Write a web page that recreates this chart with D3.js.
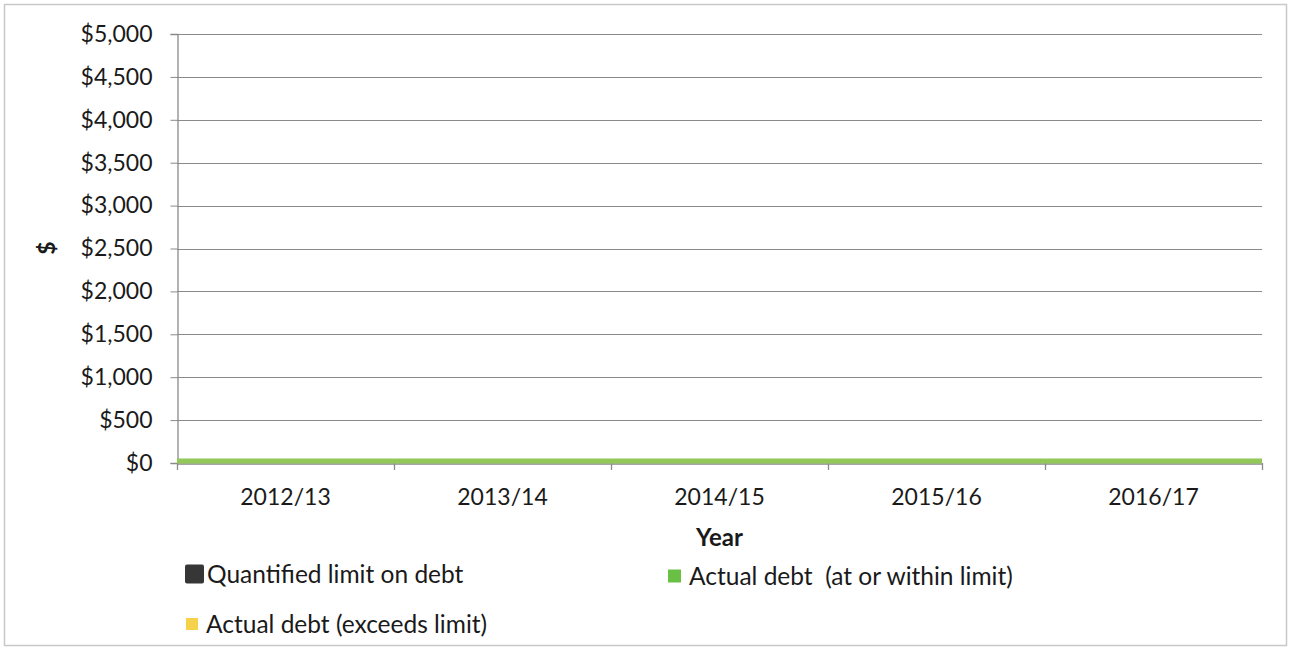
<!DOCTYPE html>
<html>
<head>
<meta charset="utf-8">
<script src="https://cdn.jsdelivr.net/npm/d3@7"></script>
<style>
  html, body { margin: 0; padding: 0; background: #fff; }
  svg { display: block; }
  text { font-family: Lato, "Open Sans", "Noto Sans", sans-serif; fill: #1a1a1a; white-space: pre; }
</style>
</head>
<body>
<svg id="chart" width="1290" height="650"></svg>
<script>
// Debt by financial year (dollars)
const years = ["2012/13", "2013/14", "2014/15", "2015/16", "2016/17"];
const quantifiedLimit = [0, 0, 0, 0, 0];
const actualWithin = [0, 0, 0, 0, 0];
const actualExceeds = [0, 0, 0, 0, 0];
const yTicks = [0, 500, 1000, 1500, 2000, 2500, 3000, 3500, 4000, 4500, 5000];

const seriesInfo = [
  { key: "limit", name: "Quantified limit on debt", values: quantifiedLimit, fill: "#333333", legend: "#363636" },
  { key: "within", name: "Actual debt  (at or within limit)", values: actualWithin, fill: "#92c857", legend: "#6abf45" },
  { key: "exceeds", name: "Actual debt (exceeds limit)", values: actualExceeds, fill: "#f5d24a", legend: "#f5d24a" }
];

const svg = d3.select("#chart");
const W = 1290, H = 650;
const plot = { left: 177, right: 1262, top: 34, bottom: 463 };
const labelFont = "23px";
const legendFont = "24.5px";

// outer frame
svg.append("rect")
  .attr("x", 4.5).attr("y", 4.5).attr("width", W - 8).attr("height", H - 9)
  .attr("fill", "#fff").attr("stroke", "#c8c8c8").attr("stroke-width", 1.5);

const x = d3.scaleBand().domain(years).range([plot.left, plot.right]).padding(0);
const xEdge = d3.scalePoint().domain(years).range([plot.left, plot.right]);
const y = d3.scaleLinear().domain([0, 5000]).range([plot.bottom, plot.top]);

// horizontal gridlines
svg.append("g")
  .selectAll("line")
  .data(yTicks.filter(d => d > 0))
  .join("line")
  .attr("x1", plot.left).attr("x2", plot.right)
  .attr("y1", d => Math.round(y(d)) + 0.5).attr("y2", d => Math.round(y(d)) + 0.5)
  .attr("stroke", "#8a8a8a").attr("stroke-width", 1);

// stacked areas
const rows = years.map((yr, i) => {
  const r = { year: yr };
  seriesInfo.forEach(s => r[s.key] = s.values[i]);
  return r;
});
const stacked = d3.stack().keys(seriesInfo.map(s => s.key))(rows);
const area = d3.area()
  .x(d => xEdge(d.data.year))
  .y0(d => y(d[0]))
  .y1(d => y(d[1]));
const topLine = d3.line()
  .x(d => xEdge(d.data.year))
  .y(d => y(d[1]));

svg.append("g").selectAll("path.area")
  .data(stacked)
  .join("path")
  .attr("class", "area")
  .attr("d", area)
  .attr("fill", (d, i) => seriesInfo[i].fill);

// y axis
const yAxis = svg.append("g")
  .attr("transform", `translate(${plot.left + 0.5},0)`)
  .call(d3.axisLeft(y).tickValues(yTicks).tickSize(7).tickPadding(18)
    .tickFormat(d => "$" + d3.format(",")(d)));
yAxis.select(".domain").attr("stroke", "#8a8a8a").attr("stroke-width", 1.3);
yAxis.selectAll(".tick line").attr("stroke", "#8a8a8a");
yAxis.selectAll(".tick text")
  .style("font-size", labelFont)
  .style("font-family", "Lato, 'Open Sans', sans-serif")
  .attr("fill", "#1a1a1a");

// x axis
const xAxis = svg.append("g")
  .attr("transform", `translate(0,${plot.bottom + 0.5})`)
  .call(d3.axisBottom(x).tickSize(0).tickPadding(25));
xAxis.select(".domain").attr("stroke", "#8a8a8a").attr("stroke-width", 1.3);
xAxis.selectAll(".tick text")
  .style("font-size", labelFont)
  .style("font-family", "Lato, 'Open Sans', sans-serif")
  .attr("fill", "#1a1a1a");
// category boundary tick marks
svg.append("g").selectAll("line")
  .data(years.map(d => x(d)).concat([plot.right]))
  .join("line")
  .attr("x1", d => Math.round(d) + 0.5).attr("x2", d => Math.round(d) + 0.5)
  .attr("y1", plot.bottom).attr("y2", plot.bottom + 7)
  .attr("stroke", "#8a8a8a").attr("stroke-width", 1.3);

// outline on the "at or within limit" series
svg.append("path")
  .datum(stacked[1])
  .attr("d", topLine)
  .attr("fill", "none")
  .attr("stroke", "#92c857")
  .attr("stroke-width", 5)
  .attr("transform", "translate(0,-2)");

// axis titles
svg.append("text")
  .attr("x", (plot.left + plot.right) / 2).attr("y", 546)
  .attr("text-anchor", "middle")
  .style("font-size", "24px").style("font-weight", "bold")
  .text("Year");
svg.append("text")
  .attr("transform", "translate(55,248) rotate(-90)")
  .attr("text-anchor", "middle")
  .style("font-size", "23px").style("font-weight", "bold")
  .text("$");

// legend
const legendItems = [
  { s: seriesInfo[0], x: 185, y: 574, size: 19 },
  { s: seriesInfo[1], x: 668, y: 576, size: 13 },
  { s: seriesInfo[2], x: 186, y: 624, size: 12 }
];
const lg = svg.append("g").selectAll("g").data(legendItems).join("g");
lg.append("rect")
  .attr("x", d => d.x)
  .attr("y", d => d.y - d.size / 2)
  .attr("width", d => d.size).attr("height", d => d.size)
  .attr("rx", d => d.size > 15 ? 2 : 0)
  .attr("fill", d => d.s.legend);
lg.append("text")
  .attr("x", d => d.x + (d.size > 15 ? 22 : d.size + 8))
  .attr("y", d => d.y)
  .attr("dy", "0.35em")
  .style("font-size", legendFont)
  .text(d => d.s.name);
</script>
</body>
</html>
